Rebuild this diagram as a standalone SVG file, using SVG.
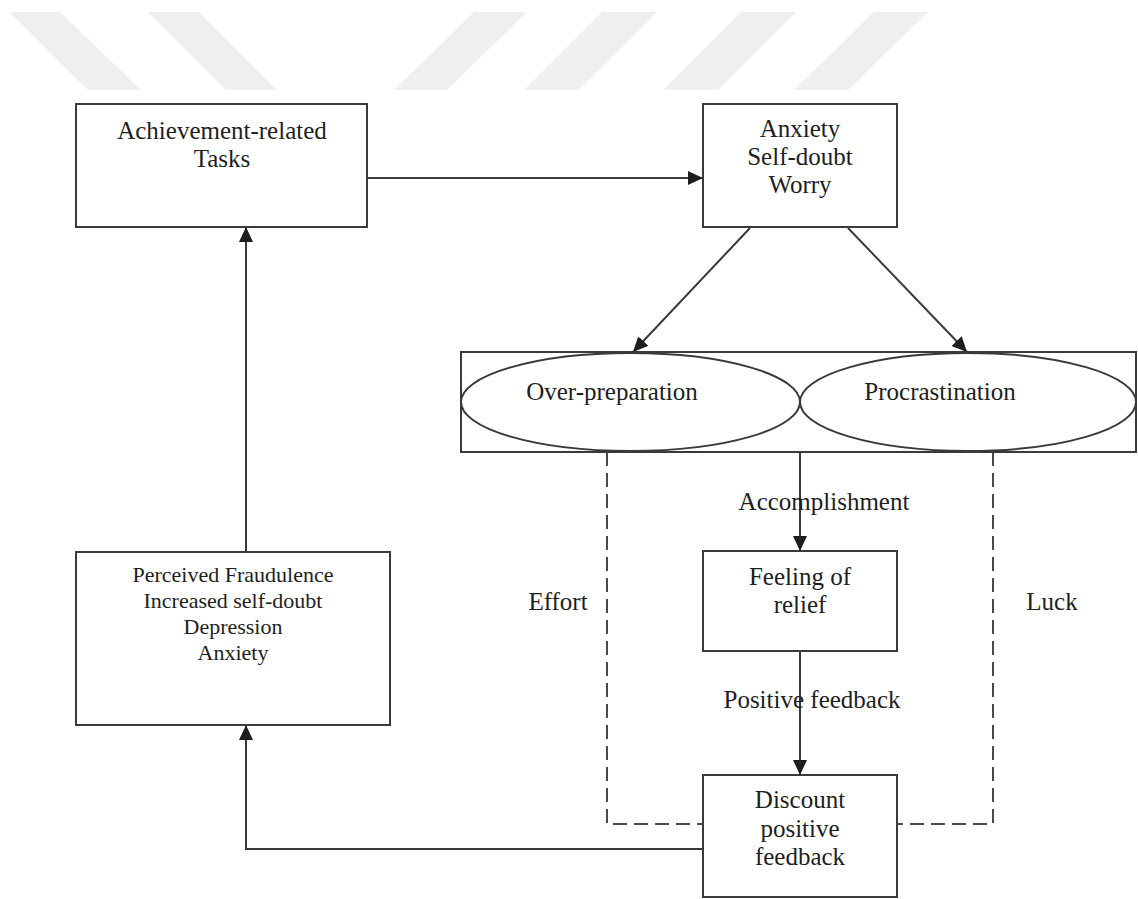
<svg xmlns="http://www.w3.org/2000/svg" width="1138" height="899" viewBox="0 0 1138 899">
<defs>
<style>
.box{fill:#fff;stroke:#3a3a3a;stroke-width:2}
.ln{fill:none;stroke:#3a3a3a;stroke-width:2}
.dash{fill:none;stroke:#4a4a4a;stroke-width:2;stroke-dasharray:14 7}
.t{font-family:"Liberation Serif","Times New Roman",serif;font-size:25px;fill:#1e1e1e;text-anchor:middle}
.s{font-size:22px}
.wm{fill:#efefef}
</style>
<marker id="ah" markerUnits="userSpaceOnUse" markerWidth="16" markerHeight="14" refX="15" refY="7" orient="auto">
<path d="M0,0 L15,7 L0,14 z" fill="#1e1e1e"/>
</marker>
</defs>
<rect width="1138" height="899" fill="#fff"/>
<g id="watermark">
<polygon class="wm" points="9,12 60,12 141,90 88,90"/>
<polygon class="wm" points="148,12 199,12 277,90 226,90"/>
<polygon class="wm" points="474,12 527,12 447,90 394,90"/>
<polygon class="wm" points="602,12 657,12 578,90 524,90"/>
<polygon class="wm" points="741,12 796,12 718,90 663,90"/>
<polygon class="wm" points="874,12 928,12 848,90 794,90"/>
</g>
<g id="connectors">
<line class="ln" x1="367" y1="178" x2="703" y2="178" marker-end="url(#ah)"/>
<line class="ln" x1="750" y1="228" x2="633" y2="352" marker-end="url(#ah)"/>
<line class="ln" x1="848" y1="228" x2="967" y2="352" marker-end="url(#ah)"/>
<line class="ln" x1="800" y1="452" x2="800" y2="551" marker-end="url(#ah)"/>
<line class="ln" x1="800" y1="651" x2="800" y2="775" marker-end="url(#ah)"/>
<polyline class="ln" points="703,849 246,849 246,725" marker-end="url(#ah)"/>
<line class="ln" x1="246" y1="552" x2="246" y2="227" marker-end="url(#ah)"/>
<polyline class="dash" points="607,452 607,824 703,824"/>
<polyline class="dash" points="993,452 993,824 897,824"/>
</g>
<g id="achievement">
<rect class="box" x="76" y="104" width="291" height="123"/>
<text class="t" x="222" y="139">Achievement-related</text>
<text class="t" x="222" y="167">Tasks</text>
</g>
<g id="anxiety">
<rect class="box" x="703" y="104" width="194" height="123"/>
<text class="t" x="800" y="137">Anxiety</text>
<text class="t" x="800" y="165">Self-doubt</text>
<text class="t" x="800" y="193">Worry</text>
</g>
<g id="behaviours">
<rect class="box" x="461" y="352" width="675" height="100"/>
<ellipse class="ln" cx="630.5" cy="402" rx="169.5" ry="49"/>
<ellipse class="ln" cx="968" cy="402" rx="168" ry="49"/>
</g>
<g id="overprep">
<text class="t" x="612" y="400">Over-preparation</text>
</g>
<g id="procrastination">
<text class="t" x="940" y="400">Procrastination</text>
</g>
<g id="relief">
<rect class="box" x="703" y="551" width="194" height="100"/>
<text class="t" x="800" y="585">Feeling of</text>
<text class="t" x="800" y="613">relief</text>
</g>
<g id="discount">
<rect class="box" x="703" y="775" width="194" height="122"/>
<text class="t" x="800" y="808">Discount</text>
<text class="t" x="800" y="837">positive</text>
<text class="t" x="800" y="865">feedback</text>
</g>
<g id="fraudulence">
<rect class="box" x="76" y="552" width="314" height="173"/>
<text class="t s" x="233" y="582">Perceived Fraudulence</text>
<text class="t s" x="233" y="608">Increased self-doubt</text>
<text class="t s" x="233" y="634">Depression</text>
<text class="t s" x="233" y="660">Anxiety</text>
</g>
<g id="labels">
<text class="t" x="824" y="510">Accomplishment</text>
<text class="t" x="812" y="708">Positive feedback</text>
<text class="t" x="558" y="610">Effort</text>
<text class="t" x="1052" y="610">Luck</text>
</g>
</svg>
